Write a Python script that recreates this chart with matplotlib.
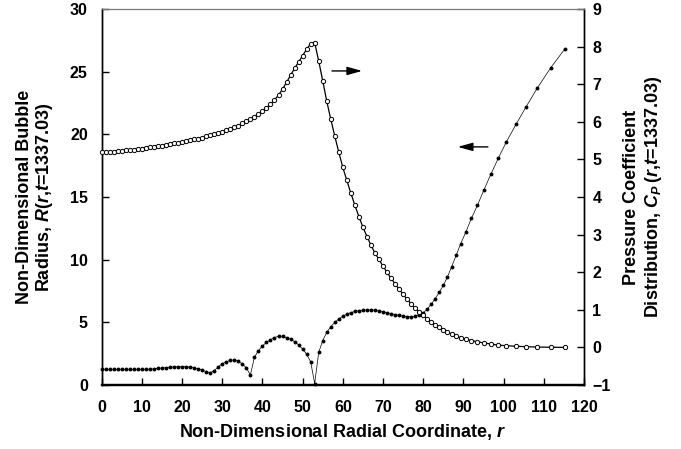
import matplotlib
matplotlib.use('Agg')
import matplotlib.pyplot as plt

# radial grid (uniform up to 86, stretched after)
r = [0, 1, 2, 3, 4, 5, 6, 7, 8, 9,
     10, 11, 12, 13, 14, 15, 16, 17, 18, 19,
     20, 21, 22, 23, 24, 25, 26, 27, 28, 29,
     30, 31, 32, 33, 34, 35, 36, 37, 38, 39,
     40, 41, 42, 43, 44, 45, 46, 47, 48, 49,
     50, 51, 52, 53, 54, 55, 56, 57, 58, 59,
     60, 61, 62, 63, 64, 65, 66, 67, 68, 69,
     70, 71, 72, 73, 74, 75, 76, 77, 78, 79,
     80, 81, 82, 83, 84, 85, 86,
     87.1, 88.2, 89.3, 90.6, 92.0, 93.5, 95.1, 96.8, 98.7, 100.7,
     103.1, 105.6, 108.4, 111.7, 115.2]

# bubble radius R(r, t=1337.03), left axis
radius = [1.25, 1.25, 1.25, 1.25, 1.25, 1.25, 1.25, 1.25, 1.25, 1.25,
          1.25, 1.25, 1.26, 1.28, 1.32, 1.36, 1.39, 1.42, 1.45, 1.46,
          1.47, 1.46, 1.43, 1.37, 1.29, 1.19, 1.07, 0.98, 1.15, 1.45,
          1.70, 1.86, 1.96, 2.00, 1.90, 1.68, 1.36, 0.80, 2.20, 2.75,
          3.12, 3.40, 3.62, 3.78, 3.90, 3.88, 3.78, 3.65, 3.45, 3.20,
          2.88, 2.45, 1.85, 0.12, 2.60, 3.55, 4.20, 4.65, 5.00, 5.27,
          5.48, 5.66, 5.78, 5.87, 5.93, 5.97, 5.99, 5.99, 5.96, 5.91,
          5.85, 5.78, 5.70, 5.62, 5.56, 5.50, 5.46, 5.44, 5.50, 5.60,
          5.75, 6.05, 6.45, 6.90, 7.40, 7.95, 8.60,
          9.45, 10.35, 11.25, 12.2, 13.3, 14.35, 15.55, 16.8, 18.1, 19.4,
          20.8, 22.2, 23.7, 25.3, 26.8]

# pressure coefficient Cp(r, t=1337.03), right axis
cp = [5.20, 5.20, 5.21, 5.21, 5.22, 5.23, 5.24, 5.25, 5.26, 5.28,
      5.29, 5.31, 5.32, 5.34, 5.35, 5.37, 5.39, 5.41, 5.43, 5.45,
      5.47, 5.49, 5.51, 5.53, 5.55, 5.58, 5.61, 5.64, 5.67, 5.70,
      5.73, 5.77, 5.81, 5.85, 5.90, 5.96, 6.01, 6.07, 6.13, 6.20,
      6.28, 6.37, 6.47, 6.58, 6.71, 6.87, 7.05, 7.24, 7.42, 7.59,
      7.76, 7.93, 8.08, 8.10, 7.62, 7.09, 6.55, 6.07, 5.62, 5.19,
      4.79, 4.44, 4.10, 3.78, 3.48, 3.20, 2.95, 2.72, 2.51, 2.34,
      2.16, 2.00, 1.84, 1.69, 1.55, 1.41, 1.28, 1.16, 1.05, 0.95,
      0.85, 0.76, 0.68, 0.60, 0.53, 0.47, 0.41,
      0.35, 0.30, 0.26, 0.22, 0.18, 0.15, 0.12, 0.09, 0.06, 0.045,
      0.03, 0.02, 0.01, 0.005, 0.0]

x_ticks = [0, 10, 20, 30, 40, 50, 60, 70, 80, 90, 100, 110, 120]
left_ticks = [0, 5, 10, 15, 20, 25, 30]
right_ticks = [-1, 0, 1, 2, 3, 4, 5, 6, 7, 8, 9]

plt.rcParams['font.family'] = 'Liberation Sans'
plt.rcParams['font.weight'] = 'bold'
plt.rcParams['axes.labelweight'] = 'bold'
plt.rcParams['mathtext.fontset'] = 'custom'
plt.rcParams['mathtext.rm'] = 'Liberation Sans:bold'
plt.rcParams['mathtext.it'] = 'Liberation Sans:italic:bold'
plt.rcParams['mathtext.bf'] = 'Liberation Sans:bold'

fig = plt.figure(figsize=(6.81, 4.49), dpi=100)
ax = fig.add_axes([0.1493, 0.1425, 0.7082, 0.8374])
ax2 = ax.twinx()

ax.plot(r, radius, color='black', lw=0.5, marker='o', ms=1.8,
        mfc='black', mec='black', clip_on=False, zorder=3)
ax2.plot(r, cp, color='black', lw=0.9, marker='o', ms=3.1,
         mfc='white', mec='black', mew=0.7, clip_on=False, zorder=3)

ax.set_xlim(0, 120)
ax.set_ylim(0, 30)
ax2.set_ylim(-1, 9)
ax.set_xticks(x_ticks)
ax.set_yticks(left_ticks)
ax2.set_yticks(right_ticks)

ax.tick_params(axis='both', direction='in', length=5, width=1, labelsize=11.5)
ax.tick_params(axis='x', pad=11)
ax.tick_params(axis='y', pad=10)
ax2.tick_params(axis='y', direction='in', length=5, width=1, labelsize=11.5, pad=6)
for lbl in ax.get_xticklabels() + ax.get_yticklabels() + ax2.get_yticklabels():
    lbl.set_fontweight('bold')

for a in (ax, ax2):
    a.spines['top'].set_color('#777777')
    a.spines['top'].set_linewidth(0.8)
    a.spines['bottom'].set_linewidth(1.6)
    a.spines['left'].set_linewidth(1.0)
    a.spines['right'].set_linewidth(1.0)

ax.set_xlabel('Non-Dimensional Radial Coordinate, $r$', fontsize=13,
              fontweight='bold', labelpad=5)

yc = 0.1425 + 0.8374 / 2
fig.text(25 / 681, yc, 'Non-Dimensional Bubble', rotation=90,
         ha='center', va='center', fontsize=13, fontweight='bold')
fig.text(45 / 681, yc, 'Radius, $R(r{,}t$=1337.03)', rotation=90,
         ha='center', va='center', fontsize=13, fontweight='bold')
fig.text(632 / 681, yc, 'Pressure Coefficient', rotation=90,
         ha='center', va='center', fontsize=13, fontweight='bold')
fig.text(654 / 681, yc, 'Distribution, $C_P\\,(r{,}t$=1337.03)', rotation=90,
         ha='center', va='center', fontsize=13, fontweight='bold')

# arrows telling which axis each curve belongs to
arrow_style = dict(arrowstyle='-|>,head_length=0.9,head_width=0.25',
                   color='black', lw=1.0, shrinkA=0, shrinkB=0)
ax.annotate('', xy=(64.8, 25.06), xytext=(57.3, 25.06), arrowprops=arrow_style)
ax.annotate('', xy=(88.6, 19.0), xytext=(96.1, 19.0), arrowprops=arrow_style)

fig.savefig('out.png', dpi=100)
